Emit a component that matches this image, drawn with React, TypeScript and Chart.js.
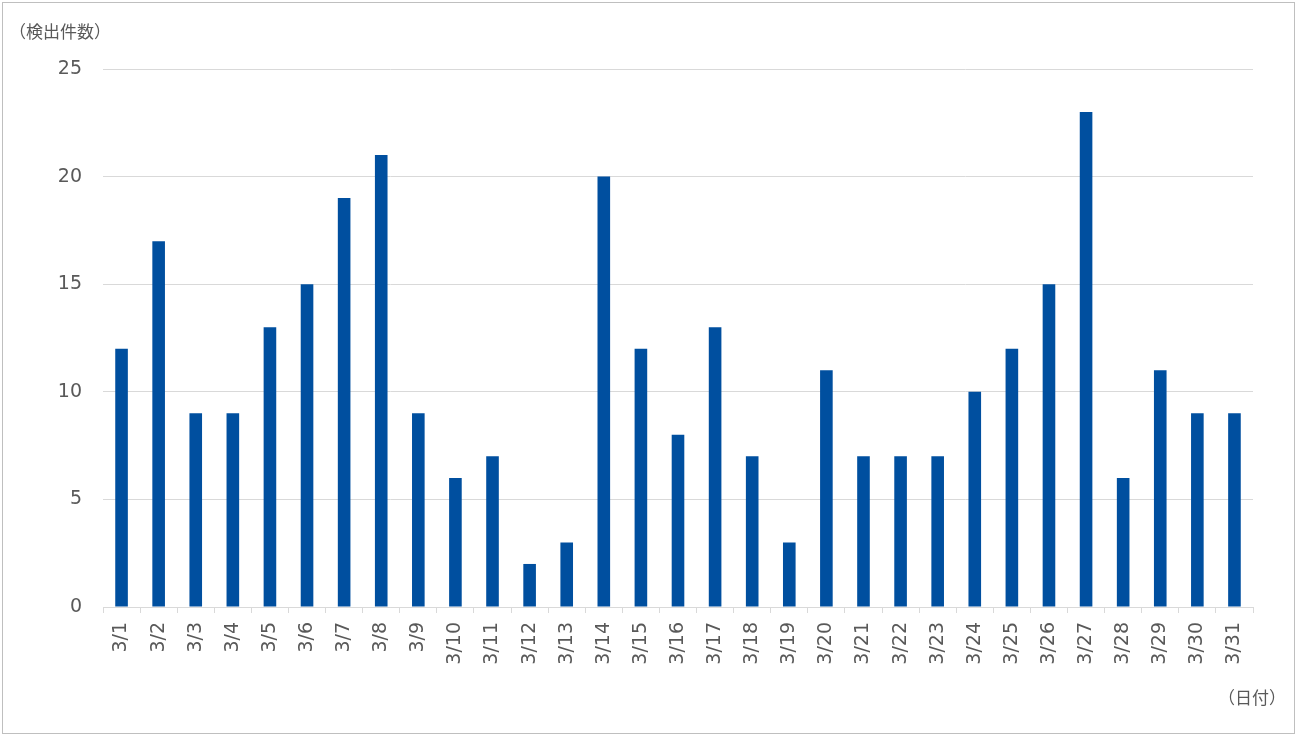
import React, { useEffect, useRef } from "react";
import { Chart, registerables } from "chart.js";

Chart.register(...registerables);

const categories = ["3/1","3/2","3/3","3/4","3/5","3/6","3/7","3/8","3/9","3/10","3/11","3/12","3/13","3/14","3/15","3/16","3/17","3/18","3/19","3/20","3/21","3/22","3/23","3/24","3/25","3/26","3/27","3/28","3/29","3/30","3/31"];
const counts = [12,17,9,9,13,15,19,21,9,6,7,2,3,20,12,8,13,7,3,11,7,7,7,10,12,15,23,6,11,9,9];
const yTitle = "（検出件数）";
const xTitle = "（日付）";

export default function App() {
  const ref = useRef<HTMLCanvasElement>(null);
  useEffect(() => {
    const titles = {
      id: "titles",
      afterDraw(chart: any) {
        const ctx = chart.ctx;
        ctx.save();
        ctx.fillStyle = "#595959";
        ctx.font = '17px "Noto Sans CJK JP"';
        ctx.textBaseline = "middle";
        ctx.textAlign = "left";
        ctx.fillText(yTitle, 6, 29);
        ctx.textAlign = "right";
        ctx.fillText(xTitle, 1283, 695);
        ctx.restore();
      },
    };
    const chart = new Chart(ref.current!, {
      type: "bar",
      data: {
        labels: categories,
        datasets: [
          {
            data: counts,
            backgroundColor: "#004f9f",
            barPercentage: 0.34,
            categoryPercentage: 1,
          },
        ],
      },
      options: {
        animation: false,
        responsive: false,
        layout: { padding: { left: 0, top: 66, right: 41, bottom: 0 } },
        plugins: { legend: { display: false }, tooltip: { enabled: false } },
        scales: {
          x: {
            grid: {
              offset: true,
              drawOnChartArea: false,
              drawTicks: true,
              tickLength: 6,
              color: "#d9d9d9",
            },
            border: { color: "#d9d9d9" },
            ticks: {
              minRotation: 90,
              maxRotation: 90,
              padding: 9,
              color: "#595959",
              font: { family: "DejaVu Sans", size: 19 },
            },
            afterFit: (s: any) => {
              s.height = 126;
            },
          },
          y: {
            min: 0,
            max: 25,
            ticks: {
              stepSize: 5,
              padding: 21,
              color: "#595959",
              font: { family: "DejaVu Sans", size: 19 },
            },
            grid: { color: "#d9d9d9", drawTicks: false },
            border: { display: false },
            afterFit: (s: any) => {
              s.width = 100;
            },
          },
        },
      },
      plugins: [titles],
    });
    return () => chart.destroy();
  }, []);
  return (
    <div style={{ position: "absolute", left: 0, top: 0, width: 1299, height: 738, background: "#fff" }}>
      <div style={{ position: "absolute", left: 2, top: 2, width: 1291, height: 730, border: "1px solid #bfbfbf" }}>
        <canvas ref={ref} width={1291} height={730} style={{ display: "block" }} />
      </div>
    </div>
  );
}
